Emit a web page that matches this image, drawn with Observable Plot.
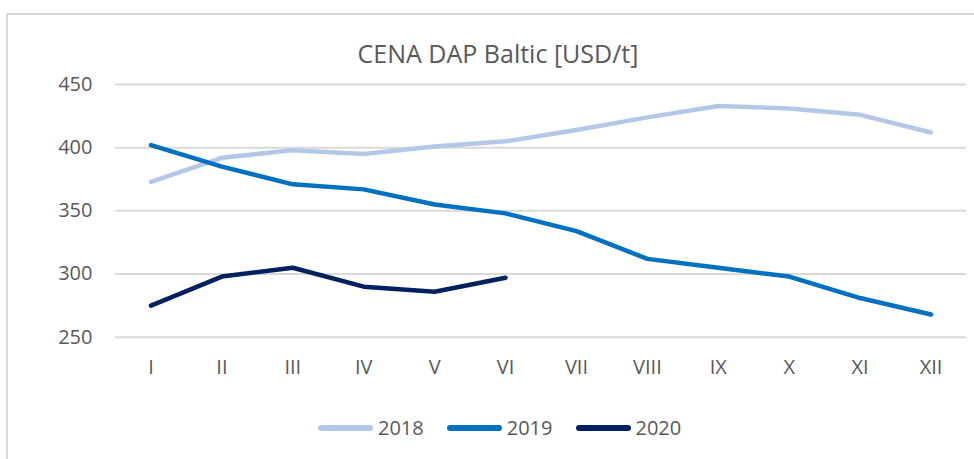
<!DOCTYPE html>
<html>
<head>
<meta charset="utf-8">
<script src="https://cdn.jsdelivr.net/npm/d3@7"></script>
<script src="https://cdn.jsdelivr.net/npm/@observablehq/plot@0.6"></script>
<style>
  html, body { margin: 0; padding: 0; background: #fff; overflow: hidden; }
  #wrap { position: relative; width: 974px; height: 459px; overflow: hidden; font-family: "Open Sans", sans-serif; color: #595959; }
  #frame { position: absolute; left: 6px; top: 13px; width: 1000px; height: 520px; border: 2px solid #d9d9d9; box-sizing: border-box; }
  #title { position: absolute; left: 498px; top: 41px; transform: translateX(-50%); font-size: 25px; line-height: 25px; white-space: nowrap; }
  #chart { position: absolute; left: 0; top: 0; }
  #legend { position: absolute; left: 318px; top: 418px; height: 20px; display: flex; align-items: center; font-size: 20px; line-height: 20px; }
  .sw { display: inline-block; width: 55px; height: 6px; border-radius: 3px; margin-right: 5px; }
  .item { display: flex; align-items: center; margin-right: 23px; }
</style>
</head>
<body>
<div id="wrap">
  <div id="frame"></div>
  <div id="title"></div>
  <div id="chart"></div>
  <div id="legend"></div>
</div>
<script>
const title = "CENA DAP Baltic [USD/t]";
const months = ["I","II","III","IV","V","VI","VII","VIII","IX","X","XI","XII"];
const years = ["2018","2019","2020"];
const colors = ["#B4C7E7","#0070C0","#002060"];
const v2018 = [373,392,398,395,401,405,414,424,433,431,426,412];
const v2019 = [402,385,371,367,355,348,334,312,305,298,281,268];
const v2020 = [275,298,305,290,286,297];
const yTicks = [250,300,350,400,450];

const series = {"2018": v2018, "2019": v2019, "2020": v2020};
const data = [];
for (const y of years) series[y].forEach((v, i) => data.push({year: y, month: months[i], value: v}));

document.getElementById("title").textContent = title;

const plot = Plot.plot({
  width: 974,
  height: 400,
  marginLeft: 115,
  marginRight: 8,
  marginTop: 84,
  marginBottom: 63.3,
  style: {fontFamily: "Open Sans, sans-serif", fontSize: "20px", color: "#595959", background: "transparent"},
  x: {type: "point", domain: months, padding: 0.5, round: false, label: null, tickSize: 0, tickPadding: 23},
  y: {domain: [250, 450], ticks: yTicks, label: null, tickSize: 0, tickPadding: 23},
  color: {domain: years, range: colors},
  marks: [
    Plot.ruleY(yTicks, {stroke: "#d9d9d9", strokeWidth: 2}),
    Plot.axisX({tickSize: 0, tickPadding: 23, fill: "#595959"}),
    Plot.axisY({ticks: yTicks, tickSize: 0, tickPadding: 23, fill: "#595959"}),
    Plot.line(data, {x: "month", y: "value", z: "year", stroke: "year", strokeWidth: 4.5, strokeLinecap: "round", strokeLinejoin: "round"})
  ]
});
document.getElementById("chart").appendChild(plot);

const legend = document.getElementById("legend");
years.forEach((y, i) => {
  const item = document.createElement("div");
  item.className = "item";
  const sw = document.createElement("span");
  sw.className = "sw";
  sw.style.background = colors[i];
  const t = document.createElement("span");
  t.textContent = y;
  item.appendChild(sw);
  item.appendChild(t);
  legend.appendChild(item);
});
</script>
</body>
</html>
